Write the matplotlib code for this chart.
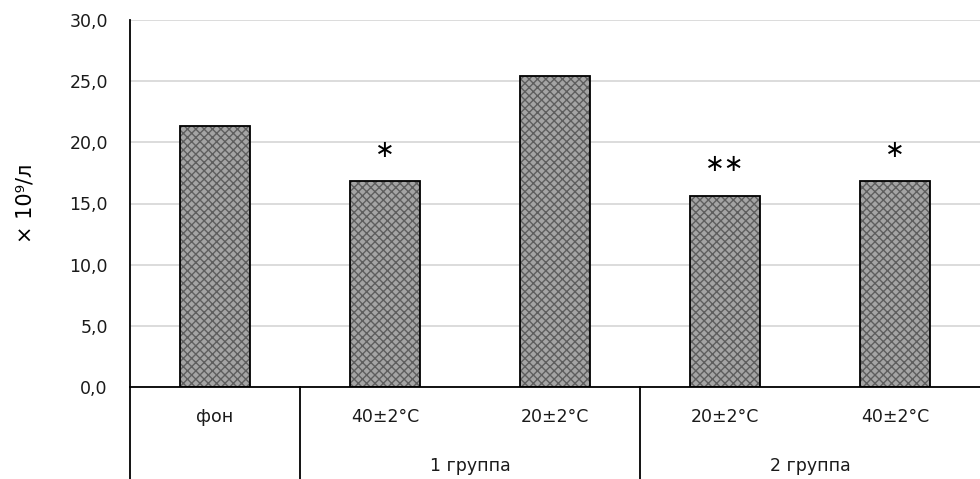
import matplotlib
matplotlib.use("Agg")
import matplotlib.pyplot as plt
from matplotlib.lines import Line2D
import numpy as np

categories = ["фон", "40±2°C", "20±2°C", "20±2°C", "40±2°C"]
values = [21.3, 16.8, 25.4, 15.6, 16.8]
marks = ["", "*", "", "**", "*"]
groups = ["1 группа", "2 группа"]
yticks = [0, 5, 10, 15, 20, 25, 30]
ytick_labels = ["0,0", "5,0", "10,0", "15,0", "20,0", "25,0", "30,0"]

plt.rcParams['font.family'] = ['DejaVu Sans']

fig = plt.figure(figsize=(9.8, 4.79), dpi=100)
ax = fig.add_axes([130/980, 1-387/479, 850/980, 367/479])

x = np.arange(len(categories))
ax.bar(x, values, width=0.41, color='#a4a4a4', hatch='xxxx', edgecolor='#5e5e5e', linewidth=0, zorder=2)
ax.bar(x, values, width=0.41, color='none', edgecolor='black', linewidth=1.3, zorder=3)

for xi, v, m in zip(x, values, marks):
    if m:
        ax.text(xi, v + 2.6, m.replace("*", "∗"), ha='center', va='center', fontsize=17)

ax.set_xlim(-0.5, len(categories) - 0.5)
ax.set_ylim(0, 30)
ax.set_yticks(yticks)
ax.set_yticklabels(ytick_labels, fontsize=12.5, color='#1a1a1a')
ax.tick_params(axis='y', length=0, pad=16)
ax.set_xticks([])
ax.yaxis.grid(True, color='#d9d9d9', linewidth=1.3, zorder=0)
ax.set_axisbelow(True)
for s in ['top', 'right']:
    ax.spines[s].set_visible(False)
ax.spines['bottom'].set_color('black')
ax.spines['bottom'].set_linewidth(1.3)
ax.spines['left'].set_visible(False)

ax.set_ylabel("× 10⁹/л", fontsize=15, labelpad=24)

tr = ax.get_xaxis_transform()
for xi, c in zip(x, categories):
    ax.text(xi, -0.082, c, transform=tr, ha='center', va='center', fontsize=12.5, color='#1a1a1a')
ax.text(1.5, -0.215, groups[0], transform=tr, ha='center', va='center', fontsize=12.5, color='#1a1a1a')
ax.text(3.5, -0.215, groups[1], transform=tr, ha='center', va='center', fontsize=12.5, color='#1a1a1a')

for xs in [-0.5, 0.5, 2.5]:
    ax.add_line(Line2D([xs, xs], [-0.27, 0 if xs > -0.5 else 1.0], transform=tr, color='black',
                       linewidth=1.3, clip_on=False))

fig.savefig("out.png", dpi=100)
